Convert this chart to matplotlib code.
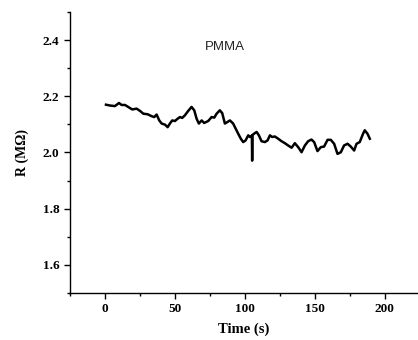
import matplotlib.pyplot as plt
from matplotlib.ticker import MultipleLocator

time_s = [0.7, 3.6, 7.1, 10.0, 11.9, 14.3, 16.6, 19.5, 22.6, 25.0, 27.4, 30.5,
          33.4, 35.2, 36.9, 38.8, 40.5, 42.9, 44.8, 46.4, 48.1, 50.0, 51.9, 53.6,
          55.2, 57.1, 59.5, 61.9, 63.8, 65.5, 67.1, 69.1, 70.9, 73.8, 76.2, 78.1,
          79.8, 82.1, 83.8, 85.7, 87.4, 89.3, 91.6, 93.4, 95.2, 97.1, 98.8, 100.5,
          102.4, 103.6, 105.0, 105.2, 105.4, 106.6, 108.4, 110.0, 111.9, 114.3,
          116.2, 117.9, 119.5, 121.4, 123.8, 126.2, 128.6, 130.9, 133.4, 135.7,
          138.1, 140.5, 142.9, 145.2, 147.6, 149.5, 151.9, 154.3, 156.6, 159.1,
          161.4, 163.8, 166.2, 168.6, 170.9, 173.4, 175.7, 178.1, 179.8, 182.1,
          184.5, 185.7, 187.6, 189.3]
resistance = [2.170, 2.167, 2.165, 2.176, 2.169, 2.169, 2.162, 2.153, 2.156, 2.148,
              2.138, 2.136, 2.129, 2.126, 2.135, 2.114, 2.103, 2.099, 2.090, 2.103,
              2.114, 2.112, 2.120, 2.126, 2.123, 2.132, 2.148, 2.162, 2.150, 2.120,
              2.103, 2.114, 2.105, 2.112, 2.126, 2.124, 2.138, 2.150, 2.140, 2.103,
              2.108, 2.114, 2.103, 2.085, 2.067, 2.049, 2.037, 2.043, 2.061, 2.055,
              2.060, 1.971, 2.062, 2.067, 2.073, 2.061, 2.040, 2.037, 2.043, 2.061,
              2.055, 2.057, 2.049, 2.040, 2.033, 2.025, 2.017, 2.033, 2.019, 2.001,
              2.025, 2.040, 2.046, 2.037, 2.005, 2.019, 2.021, 2.045, 2.045, 2.031,
              1.995, 2.001, 2.025, 2.031, 2.021, 2.007, 2.031, 2.037, 2.067, 2.079,
              2.067, 2.049]

serif = ['Liberation Serif', 'DejaVu Serif']

fig = plt.figure(figsize=(4.18, 3.4), dpi=100)
ax = fig.add_axes([0.1675, 0.138, 0.83, 0.827])

ax.plot(time_s, resistance, color='black', linewidth=1.8)
ax.text(86, 2.375, 'PMMA', fontsize=9.5, family=['Liberation Sans', 'DejaVu Sans'],
        ha='center', va='center', color='#222222')

ax.set_xlim(-25, 223)
ax.set_ylim(1.5, 2.5)
ax.xaxis.set_major_locator(MultipleLocator(50))
ax.xaxis.set_minor_locator(MultipleLocator(25))
ax.yaxis.set_major_locator(MultipleLocator(0.2))
ax.yaxis.set_minor_locator(MultipleLocator(0.1))

ax.spines['top'].set_visible(False)
ax.spines['right'].set_visible(False)
for s in ['left', 'bottom']:
    ax.spines[s].set_linewidth(1.0)

ax.tick_params(which='major', direction='out', length=4, width=1.0, labelsize=9.5)
ax.tick_params(which='minor', direction='out', length=2.5, width=1.0)
for lab in ax.get_xticklabels() + ax.get_yticklabels():
    lab.set_fontfamily(serif)
    lab.set_fontweight('bold')

ax.set_xlabel('Time (s)', fontsize=10.5, fontweight='bold', family=serif, labelpad=5)
ax.set_ylabel('R (M\u03a9)', fontsize=10, fontweight='bold', family=serif, labelpad=10)

fig.savefig('out.png', dpi=100)
